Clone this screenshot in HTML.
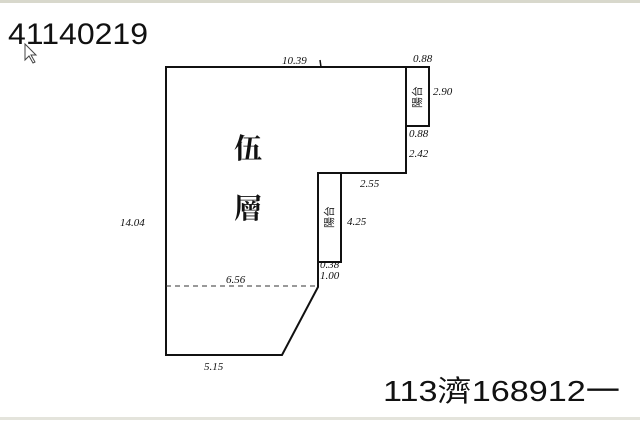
<!DOCTYPE html>
<html><head><style>
html,body{margin:0;padding:0;background:#fff;}
body{width:640px;height:420px;overflow:hidden;position:relative;}
</style></head><body>
<svg width="640" height="420" xmlns="http://www.w3.org/2000/svg">
<rect x="0" y="0" width="640" height="3" fill="#d8d8cc"/>
<rect x="0" y="417" width="640" height="3" fill="#e4e4dc"/>
<text x="8" y="44" font-family="Liberation Sans, sans-serif" font-size="30" fill="#111" textLength="140" lengthAdjust="spacingAndGlyphs">41140219</text>
<path d="M25,44 L25,60 L29,56 L33,63 L35,62 L31,55 L36,55 Z" fill="#fff" stroke="#444" stroke-width="1"/>
<g stroke="#111" stroke-width="2" fill="none">
<path d="M166,67 L429,67 L429,126 L406,126 L406,173 L318,173 L318,287 L282,355 L166,355 Z"/>
<line x1="406" y1="67" x2="406" y2="126"/>
<rect x="318" y="173" width="23" height="89"/>
<line x1="320" y1="60" x2="321" y2="67" stroke-width="1.5"/>
</g>
<line x1="166" y1="286" x2="318" y2="286" stroke="#333" stroke-width="1" stroke-dasharray="5,4"/>
<g font-family="Liberation Serif, 'Noto Serif CJK SC', serif" font-size="28" font-weight="bold" fill="#111">
<text x="234" y="158">伍</text>
<text x="234" y="218">層</text>
</g>
<g font-family="'Noto Sans CJK TC', sans-serif" font-size="11" fill="#222" text-anchor="middle">
<text x="0" y="0" transform="translate(421,97) rotate(-90)">陽台</text>
<text x="0" y="0" transform="translate(333,217) rotate(-90)">陽台</text>
</g>
<g font-family="Liberation Serif, serif" font-style="italic" font-size="11" fill="#111">
<text x="282" y="64">10.39</text>
<text x="413" y="62">0.88</text>
<text x="433" y="95">2.90</text>
<text x="409" y="137">0.88</text>
<text x="409" y="157">2.42</text>
<text x="360" y="187">2.55</text>
<text x="347" y="225">4.25</text>
<text x="320" y="268">0.38</text>
<text x="320" y="279">1.00</text>
<text x="226" y="283">6.56</text>
<text x="204" y="370">5.15</text>
<text x="120" y="226">14.04</text>
</g>
<text x="383" y="401" font-family="Liberation Sans, 'Noto Sans CJK TC', sans-serif" font-size="29" fill="#111" textLength="237" lengthAdjust="spacingAndGlyphs">113濟168912一</text>
</svg>
</body></html>
